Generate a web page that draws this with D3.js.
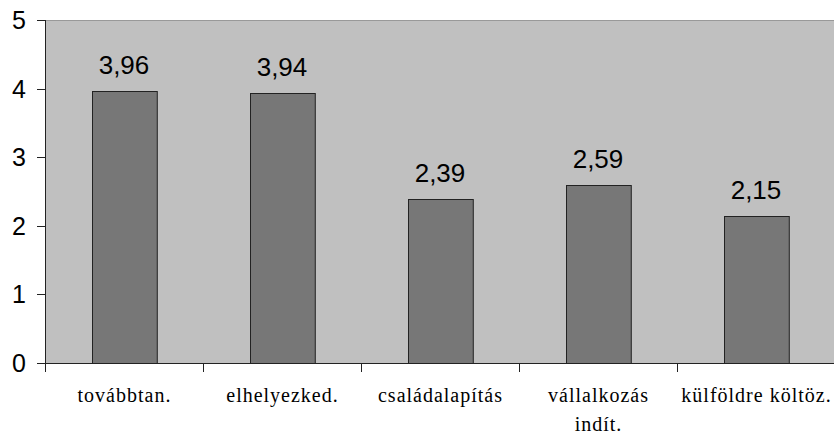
<!DOCTYPE html>
<html><head><meta charset="utf-8">
<script src="https://cdn.jsdelivr.net/npm/d3@7"></script>
<style>body{margin:0;background:#fff}</style>
</head><body>
<svg id="c" width="834" height="435"></svg>
<script>
const categories = [["továbbtan."],["elhelyezked."],["családalapítás"],["vállalkozás","indít."],["külföldre költöz."]];
const values = [3.96, 3.94, 2.39, 2.59, 2.15];
const valueLabels = ["3,96","3,94","2,39","2,59","2,15"];
const yTicks = [0,1,2,3,4,5];

const svg = d3.select("#c");
const x0 = 45, x1 = 835, yTop = 20, yBot = 363;
const x = d3.scaleBand().domain(d3.range(values.length)).range([x0, x1]).paddingInner(0.59).paddingOuter(0.295);
const xb = d3.scaleBand().domain(d3.range(values.length)).range([x0, x1]);
const y = d3.scaleLinear().domain([0,5]).range([yBot, yTop]);

svg.append("rect").attr("x", x0).attr("y", yTop).attr("width", x1-x0).attr("height", yBot-yTop).attr("fill","#c0c0c0");
svg.append("line").attr("x1", x0).attr("x2", x1).attr("y1", yTop+0.5).attr("y2", yTop+0.5).attr("stroke","#999");

svg.selectAll(".bar").data(values).enter().append("rect")
  .attr("x",(d,i)=>Math.round(x(i))+0.5).attr("width",x.bandwidth())
  .attr("y",d=>Math.round(y(d))+0.5).attr("height",d=>yBot-Math.round(y(d)))
  .attr("fill","#777777").attr("stroke","#222").attr("stroke-width",1);

svg.selectAll(".vl").data(values).enter().append("text")
  .attr("x",(d,i)=>x(i)+x.bandwidth()/2).attr("y",d=>y(d)-17)
  .attr("text-anchor","middle").attr("font-family","Liberation Sans, Arial, sans-serif")
  .attr("font-size",26).attr("fill","#000").text((d,i)=>valueLabels[i]);

// y axis
svg.append("line").attr("x1",x0+0.5).attr("x2",x0+0.5).attr("y1",yTop).attr("y2",yBot).attr("stroke","#222");
yTicks.forEach(t=>{
  svg.append("line").attr("x1",x0-8).attr("x2",x0).attr("y1",Math.round(y(t))+0.5).attr("y2",Math.round(y(t))+0.5).attr("stroke","#222");
  svg.append("text").attr("x",19).attr("y",y(t)+9).attr("text-anchor","middle")
    .attr("font-family","Liberation Sans, Arial, sans-serif").attr("font-size",25).text(t);
});
// x axis
svg.append("line").attr("x1",x0).attr("x2",x1).attr("y1",yBot+0.5).attr("y2",yBot+0.5).attr("stroke","#222");
d3.range(values.length+1).forEach(i=>{
  const xx = Math.round(x0 + i*xb.step())+0.5;
  svg.append("line").attr("x1",xx).attr("x2",xx).attr("y1",yBot).attr("y2",yBot+9).attr("stroke","#222");
});
categories.forEach((lines,i)=>{
  const t = svg.append("text").attr("text-anchor","middle")
    .attr("font-family","Liberation Serif, Times New Roman, serif").attr("font-size",20).attr("letter-spacing",1);
  lines.forEach((l,j)=>t.append("tspan").attr("x",xb(i)+xb.bandwidth()/2+0.5).attr("y",402+j*29).text(l));
});
</script>
</body></html>
